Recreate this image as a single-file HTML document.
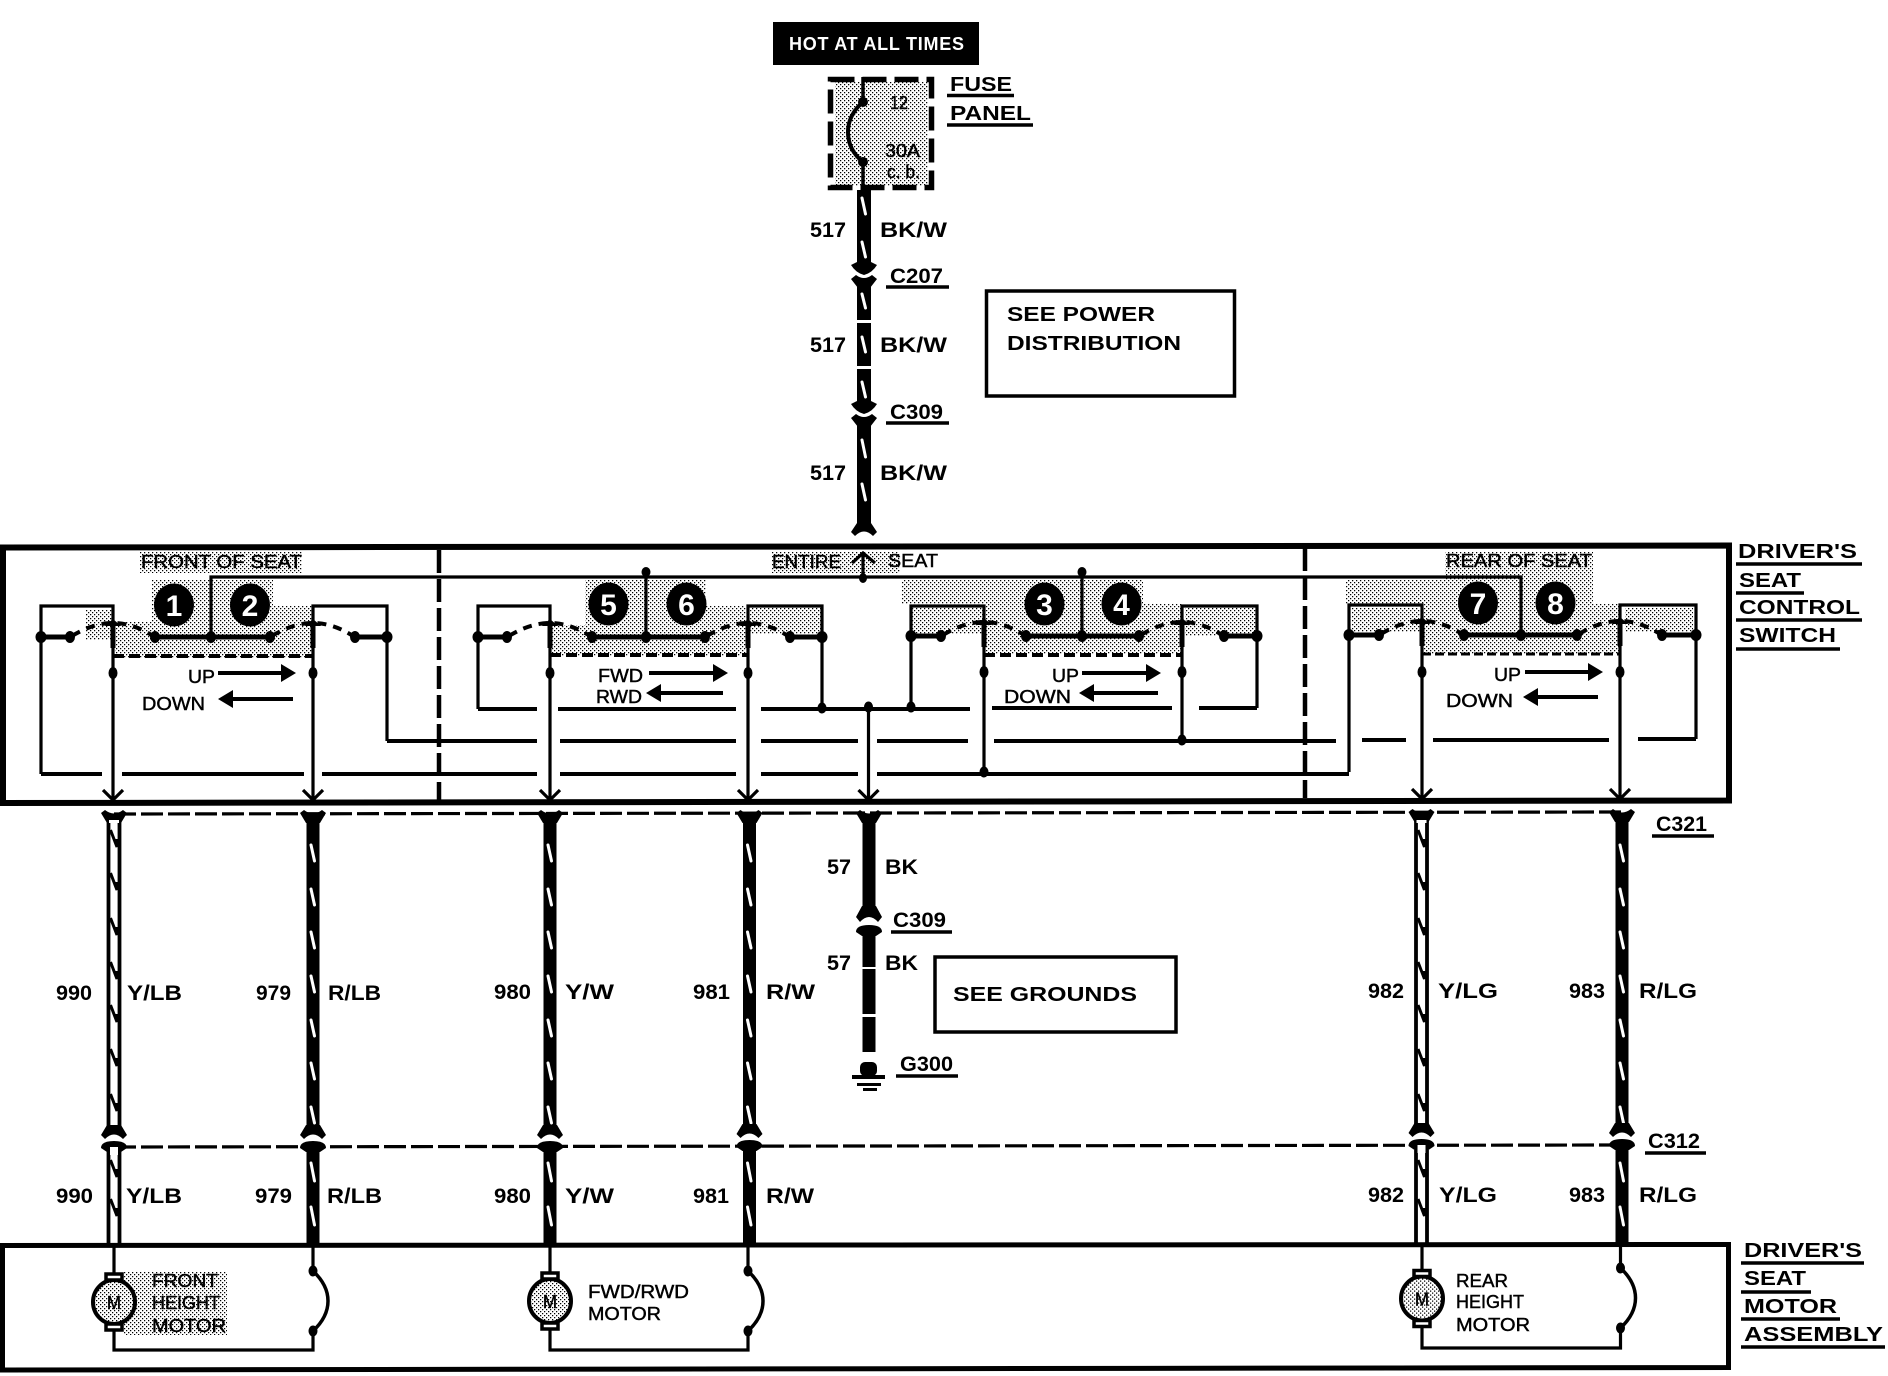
<!DOCTYPE html>
<html><head><meta charset="utf-8"><style>
html,body{margin:0;padding:0;background:#fff}
svg{display:block}
text{font-family:"Liberation Sans",sans-serif;fill:#000}
.b{font-size:20px;font-weight:bold}
.n{font-size:21px;font-weight:bold}
.r{font-size:18px;stroke:#000;stroke-width:.45}
.c{font-size:30px;font-weight:bold;fill:#fff;text-anchor:middle}
.w{fill:none;stroke:#000;stroke-width:3.2}
.u{stroke:#000;stroke-width:3.5}
</style></head><body>
<svg width="1888" height="1376" viewBox="0 0 1888 1376" xmlns="http://www.w3.org/2000/svg">
<defs>
<pattern id="st" width="4" height="4" patternUnits="userSpaceOnUse"><rect width="4" height="4" fill="#fff"/><rect x="0" y="0" width="1.25" height="1.25" fill="#000"/><rect x="2" y="2" width="1.25" height="1.25" fill="#000"/></pattern>
<g id="hs">
<path d="M-41,-1 Q-20,-14 0,-14 Q20,-14 40,-1" fill="none" stroke="#000" stroke-width="4" stroke-dasharray="9 7"/>
<path d="M-8,-11 L0,-18 L8,-11 Z" fill="#000"/>
<line x1="0" y1="-14" x2="0" y2="11" stroke="#000" stroke-width="5"/>
<ellipse cx="-43" cy="0" rx="5" ry="6"/><ellipse cx="42" cy="0" rx="5" ry="6"/>
</g>
<path id="ah" d="M-10,-10 L0,0 L10,-10" fill="none" stroke="#000" stroke-width="3.2"/>
<path id="forkTop" d="M-13,0 L-9,-3 Q0,4 9,-3 L13,0 L7,10 L-7,10 Z"/>
<g id="forkLow">
<path d="M-7,-14 L-13,-4 L-9,0 Q0,-9 9,0 L13,-4 L7,-14 Z"/>
<path d="M-13,9 Q-13,2 0,2 Q13,2 13,9 L7,13 L-7,13 Z"/>
</g>
<g id="sl" stroke="#fff" stroke-width="3" stroke-linecap="round">
<line x1="-2" y1="0" x2="1.5" y2="16"/><line x1="-2" y1="44" x2="1.5" y2="60"/><line x1="-2" y1="87" x2="1.5" y2="103"/><line x1="-2" y1="131" x2="1.5" y2="147"/><line x1="-2" y1="175" x2="1.5" y2="191"/><line x1="-2" y1="218" x2="1.5" y2="234"/><line x1="-2" y1="262" x2="1.5" y2="278"/>
</g>
<g id="sl2" stroke="#fff" stroke-width="3" stroke-linecap="round">
<line x1="-2" y1="1163" x2="1.5" y2="1181"/><line x1="-2" y1="1207" x2="1.5" y2="1225"/>
</g>
<path id="sq" d="M-3.5,0 L3,17 L3,9" fill="none" stroke="#000" stroke-width="3"/>
<g id="hollow">
<line x1="-5.5" y1="818" x2="-5.5" y2="1128" stroke="#000" stroke-width="3.8"/><line x1="5.5" y1="818" x2="5.5" y2="1128" stroke="#000" stroke-width="3.8"/>
<line x1="-5.5" y1="1150" x2="-5.5" y2="1246" stroke="#000" stroke-width="3.8"/><line x1="5.5" y1="1150" x2="5.5" y2="1246" stroke="#000" stroke-width="3.8"/>
<use href="#sq" y="830"/><use href="#sq" y="873"/><use href="#sq" y="918"/><use href="#sq" y="962"/><use href="#sq" y="1005"/><use href="#sq" y="1049"/><use href="#sq" y="1094"/><use href="#sq" y="1160"/><use href="#sq" y="1199"/>
</g>
<g id="solid">
<line x1="0" y1="818" x2="0" y2="1128" stroke="#000" stroke-width="13"/><line x1="0" y1="1150" x2="0" y2="1246" stroke="#000" stroke-width="13"/>
<use href="#sl" y="845"/><use href="#sl2"/>
</g>
<g id="motor">
<ellipse cx="0" cy="0" rx="21" ry="22" fill="url(#st)" stroke="#000" stroke-width="4"/>
<rect x="-8" y="-28" width="16" height="6" fill="#fff" stroke="#000" stroke-width="3.5"/>
<rect x="-8" y="22" width="16" height="6" fill="#fff" stroke="#000" stroke-width="3.5"/>
<text x="-7" y="7" class="r" textLength="14" lengthAdjust="spacingAndGlyphs">M</text>
</g>
<g id="brk">
<ellipse cx="0" cy="0" rx="4.5" ry="5.5"/><ellipse cx="0" cy="60" rx="4.5" ry="5.5"/>
<path d="M0,0 Q15,14 15,30 Q15,46 0,60" fill="none" stroke="#000" stroke-width="3.5"/>
</g>
</defs>
<rect width="1888" height="1376" fill="#fff"/>

<!-- stipple regions -->
<g fill="url(#st)">
<rect x="140" y="552" width="162" height="21"/><rect x="152" y="580" width="121" height="43"/><rect x="115" y="622" width="198" height="36"/><rect x="273" y="606" width="40" height="20"/><rect x="86" y="610" width="27" height="30"/>
<rect x="772" y="552" width="128" height="21"/>
<rect x="585" y="580" width="121" height="45"/><rect x="551" y="625" width="195" height="31"/><rect x="706" y="606" width="40" height="20"/><rect x="749" y="608" width="72" height="26"/>
<rect x="902" y="580" width="241" height="24"/><rect x="912" y="608" width="71" height="26"/><rect x="986" y="604" width="196" height="50"/><rect x="1185" y="608" width="71" height="28"/>
<rect x="1445" y="552" width="148" height="30"/><rect x="1346" y="580" width="247" height="24"/><rect x="1352" y="608" width="68" height="24"/><rect x="1423" y="604" width="197" height="50"/><rect x="1625" y="608" width="68" height="24"/>
<rect x="835" y="82" width="93" height="104"/>
<rect x="124" y="1272" width="103" height="63"/>
</g>

<!-- top header -->
<rect x="773" y="22" width="206" height="43" fill="#000"/>
<text x="789" y="50" class="b" style="fill:#fff;font-size:18px" textLength="175" lengthAdjust="spacing">HOT AT ALL TIMES</text>
<rect x="830.5" y="79.5" width="101" height="108" fill="none" stroke="#000" stroke-width="5.5" stroke-dasharray="24 8"/>
<path d="M863,77 V102 M863,162 V190" stroke="#000" stroke-width="3.5" fill="none"/>
<path d="M863,102 Q848,115 848,132 Q848,150 863,162" fill="none" stroke="#000" stroke-width="4"/>
<circle cx="863" cy="102" r="5"/><circle cx="863" cy="162" r="5"/>
<text x="890" y="109" class="r" textLength="18" lengthAdjust="spacingAndGlyphs">12</text>
<text x="885" y="157" class="r" textLength="35" lengthAdjust="spacingAndGlyphs">30A</text>
<text x="887" y="178" class="r" textLength="33" lengthAdjust="spacingAndGlyphs">c. b.</text>
<text x="950" y="91" class="b" textLength="62" lengthAdjust="spacingAndGlyphs">FUSE</text><line x1="947" y1="95.5" x2="1014" y2="95.5" class="u"/>
<text x="950" y="120" class="b" textLength="81" lengthAdjust="spacingAndGlyphs">PANEL</text><line x1="947" y1="125" x2="1033" y2="125" class="u"/>

<!-- 517 wire -->
<g stroke="#000" stroke-width="14"><line x1="864" y1="190" x2="864" y2="263"/><line x1="864" y1="284" x2="864" y2="320"/><line x1="864" y1="323" x2="864" y2="366"/><line x1="864" y1="369" x2="864" y2="403"/><line x1="864" y1="422" x2="864" y2="528"/></g>
<path d="M857,262 L851,265 Q856,273 864,275 Q872,273 877,265 L871,262Z"/>
<path d="M851,279 L856,275 Q864,281 872,275 L877,279 L870,288 L858,288Z"/>
<path d="M857,401 L851,404 Q856,412 864,414 Q872,412 877,404 L871,401Z"/>
<path d="M851,418 L856,414 Q864,420 872,414 L877,418 L870,427 L858,427Z"/>
<path d="M857,523 L851,532 L855,536 Q864,527 873,536 L877,532 L871,523Z"/>
<g stroke="#fff" stroke-width="3" stroke-linecap="round">
<line x1="862" y1="198" x2="865.5" y2="214"/><line x1="862" y1="242" x2="865.5" y2="257"/><line x1="862" y1="294" x2="865.5" y2="308"/><line x1="862" y1="337" x2="865.5" y2="352"/><line x1="862" y1="382" x2="865.5" y2="397"/><line x1="862" y1="440" x2="865.5" y2="457"/><line x1="862" y1="484" x2="865.5" y2="500"/>
</g>
<text x="810" y="237" class="n" textLength="36" lengthAdjust="spacingAndGlyphs">517</text><text x="880" y="237" class="n" textLength="67" lengthAdjust="spacingAndGlyphs">BK/W</text>
<text x="810" y="352" class="n" textLength="36" lengthAdjust="spacingAndGlyphs">517</text><text x="880" y="352" class="n" textLength="67" lengthAdjust="spacingAndGlyphs">BK/W</text>
<text x="810" y="480" class="n" textLength="36" lengthAdjust="spacingAndGlyphs">517</text><text x="880" y="480" class="n" textLength="67" lengthAdjust="spacingAndGlyphs">BK/W</text>
<text x="890" y="283" class="n" textLength="53" lengthAdjust="spacingAndGlyphs">C207</text><line x1="886" y1="287" x2="949" y2="287" class="u"/>
<text x="890" y="419" class="n" textLength="53" lengthAdjust="spacingAndGlyphs">C309</text><line x1="886" y1="423" x2="949" y2="423" class="u"/>
<rect x="986.5" y="291" width="248" height="105" fill="none" stroke="#000" stroke-width="3.5"/>
<text x="1007" y="321" class="b" textLength="148" lengthAdjust="spacingAndGlyphs">SEE POWER</text>
<text x="1007" y="350" class="b" textLength="174" lengthAdjust="spacingAndGlyphs">DISTRIBUTION</text>

<!-- switch box -->
<path d="M3,803 V547.5 L1729,545.5 V800.5 Z" fill="none" stroke="#000" stroke-width="6"/>
<line x1="439" y1="550" x2="439" y2="800" stroke="#000" stroke-width="4.5" stroke-dasharray="23 6"/>
<line x1="1305" y1="548" x2="1305" y2="798" stroke="#000" stroke-width="4.5" stroke-dasharray="23 6"/>

<!-- bus and wiring -->
<path class="w" d="M211,637 V577 H1521 V635"/>
<path class="w" d="M646,572 V637 M1082,572 V636 M863,553 V578"/>
<path d="M852,563 L863,553 L875,563" fill="none" stroke="#000" stroke-width="3.2"/>
<ellipse cx="863" cy="578" rx="4" ry="5"/><ellipse cx="646" cy="572" rx="4.5" ry="5"/><ellipse cx="1082" cy="572" rx="4.5" ry="5"/>
<path class="w" d="M41,774 V606 H113 V800 M313,800 V606 H387 V741"/>
<path class="w" d="M478,709 V606 H550 V800 M748,800 V606 H822 V709"/>
<path class="w" d="M911,708 V606 H984 V773 M1182,740 V606 H1257 V708"/>
<path class="w" d="M1349,772 V605 H1422 V800 M1620,800 V605 H1696 V739"/>
<path class="w" d="M868.5,708 V800"/>
<g class="w" style="stroke-width:4">
<path d="M41,774 H102 M122,774 H304 M322,774 H537 M560,774 H736 M761,774 H858 M877,774 H1349 M1349,772 H1349"/>
<path d="M387,741 H537 M560,741 H736 M761,741 H858 M877,741 H968 M994,741 H1336 M1362,740 H1406 M1433,740 H1609 M1638,739 H1696"/>
<path d="M478,709 H537 M558,709 H736 M761,709 H970 M992,708 H1172 M1199,708 H1257"/>
</g>
<g>
<ellipse cx="822" cy="708" rx="4.5" ry="5.5"/><ellipse cx="868.5" cy="707" rx="4.5" ry="5.5"/><ellipse cx="911" cy="707" rx="4.5" ry="5.5"/><ellipse cx="1182" cy="740" rx="4.5" ry="5.5"/><ellipse cx="984" cy="772" rx="4.5" ry="5.5"/>
<ellipse cx="113" cy="673" rx="4.5" ry="6"/><ellipse cx="313" cy="673" rx="4.5" ry="6"/><ellipse cx="550" cy="673" rx="4.5" ry="6"/><ellipse cx="748" cy="673" rx="4.5" ry="6"/><ellipse cx="984" cy="672" rx="4.5" ry="6"/><ellipse cx="1182" cy="672" rx="4.5" ry="6"/><ellipse cx="1422" cy="672" rx="4.5" ry="6"/><ellipse cx="1620" cy="672" rx="4.5" ry="6"/>
<ellipse cx="211" cy="637" rx="5" ry="6"/><ellipse cx="646" cy="637" rx="5" ry="6"/><ellipse cx="1082" cy="636" rx="5" ry="6"/><ellipse cx="1521" cy="635" rx="5" ry="6"/>
<ellipse cx="41" cy="637" rx="5.5" ry="6"/><ellipse cx="387" cy="637" rx="5.5" ry="6"/><ellipse cx="478" cy="637" rx="5.5" ry="6"/><ellipse cx="822" cy="637" rx="5.5" ry="6"/><ellipse cx="911" cy="636" rx="5.5" ry="6"/><ellipse cx="1257" cy="636" rx="5.5" ry="6"/><ellipse cx="1349" cy="635" rx="5.5" ry="6"/><ellipse cx="1696" cy="635" rx="5.5" ry="6"/>
</g>
<!-- contact bars -->
<path d="M41,637 H70 M154,637 H270 M355,637 H387 M478,637 H505 M590,637 H706 M788,637 H822 M911,636 H941 M1027,636 H1140 M1225,636 H1257 M1349,635 H1378 M1463,635 H1580 M1663,635 H1696" stroke="#000" stroke-width="5" fill="none"/>
<use href="#hs" x="113" y="637"/><use href="#hs" x="313" y="637"/><use href="#hs" x="550" y="637"/><use href="#hs" x="748" y="637"/>
<use href="#hs" x="984" y="636"/><use href="#hs" x="1182" y="636"/><use href="#hs" x="1422" y="635"/><use href="#hs" x="1620" y="635"/>
<!-- mechanical links -->
<line x1="113" y1="656" x2="313" y2="656" stroke="#000" stroke-width="4" stroke-dasharray="11 5"/>
<line x1="550" y1="655" x2="748" y2="655" stroke="#000" stroke-width="4" stroke-dasharray="11 5"/>
<line x1="984" y1="655" x2="1182" y2="655" stroke="#000" stroke-width="4" stroke-dasharray="11 5"/>
<line x1="1422" y1="654" x2="1620" y2="654" stroke="#000" stroke-width="3" stroke-dasharray="9 4"/>
<!-- arrowheads into bottom -->
<use href="#ah" x="113" y="800"/><use href="#ah" x="313" y="800"/><use href="#ah" x="550" y="800"/><use href="#ah" x="748" y="800"/><use href="#ah" x="868.5" y="800"/><use href="#ah" x="1422" y="799"/><use href="#ah" x="1620" y="799"/>
<!-- numbered circles -->
<g>
<ellipse cx="174" cy="605" rx="20" ry="21.5"/><ellipse cx="250" cy="605" rx="20" ry="21.5"/><ellipse cx="608.5" cy="604" rx="20" ry="21.5"/><ellipse cx="686.5" cy="604" rx="20" ry="21.5"/>
<ellipse cx="1044.5" cy="604" rx="20" ry="21.5"/><ellipse cx="1121.5" cy="604" rx="20" ry="21.5"/><ellipse cx="1478" cy="603" rx="20" ry="21.5"/><ellipse cx="1555.5" cy="603" rx="20" ry="21.5"/>
</g>
<text x="174" y="616" class="c">1</text><text x="250" y="616" class="c">2</text><text x="608.5" y="615" class="c">5</text><text x="686.5" y="615" class="c">6</text>
<text x="1044.5" y="615" class="c">3</text><text x="1121.5" y="615" class="c">4</text><text x="1478" y="614" class="c">7</text><text x="1555.5" y="614" class="c">8</text>
<!-- switch labels -->
<text x="141" y="568" class="r" textLength="161" lengthAdjust="spacingAndGlyphs">FRONT OF SEAT</text>
<text x="772" y="568" class="r" textLength="69" lengthAdjust="spacingAndGlyphs">ENTIRE</text>
<text x="888" y="567" class="r" textLength="50" lengthAdjust="spacingAndGlyphs">SEAT</text>
<text x="1446" y="567" class="r" textLength="146" lengthAdjust="spacingAndGlyphs">REAR OF SEAT</text>
<text x="188" y="683" class="r" textLength="27" lengthAdjust="spacingAndGlyphs">UP</text><text x="142" y="710" class="r" textLength="63" lengthAdjust="spacingAndGlyphs">DOWN</text>
<text x="598" y="682" class="r" textLength="45" lengthAdjust="spacingAndGlyphs">FWD</text><text x="596" y="703" class="r" textLength="46" lengthAdjust="spacingAndGlyphs">RWD</text>
<text x="1052" y="682" class="r" textLength="27" lengthAdjust="spacingAndGlyphs">UP</text><text x="1004" y="703" class="r" textLength="67" lengthAdjust="spacingAndGlyphs">DOWN</text>
<text x="1494" y="681" class="r" textLength="27" lengthAdjust="spacingAndGlyphs">UP</text><text x="1446" y="707" class="r" textLength="67" lengthAdjust="spacingAndGlyphs">DOWN</text>
<!-- direction arrows -->
<g stroke="#000" stroke-width="4"><line x1="218" y1="673" x2="285" y2="673"/><line x1="228" y1="699" x2="293" y2="699"/><line x1="649" y1="673" x2="718" y2="673"/><line x1="656" y1="693" x2="723" y2="693"/><line x1="1082" y1="673" x2="1150" y2="673"/><line x1="1089" y1="693" x2="1158" y2="693"/><line x1="1525" y1="672" x2="1592" y2="672"/><line x1="1533" y1="697" x2="1598" y2="697"/></g>
<path d="M281,664 L296,673 L281,682Z M233,690 L218,699 L233,708Z M713,664 L728,673 L713,682Z M661,684 L646,693 L661,702Z M1146,664 L1161,673 L1146,682Z M1094,684 L1079,693 L1094,702Z M1588,663 L1603,672 L1588,681Z M1538,688 L1523,697 L1538,706Z"/>
<!-- right labels top -->
<text x="1738" y="558" class="b" textLength="119" lengthAdjust="spacingAndGlyphs">DRIVER'S</text><line x1="1736" y1="564" x2="1862" y2="564" class="u"/>
<text x="1739" y="587" class="b" textLength="62" lengthAdjust="spacingAndGlyphs">SEAT</text><line x1="1736" y1="593" x2="1804" y2="593" class="u"/>
<text x="1739" y="614" class="b" textLength="121" lengthAdjust="spacingAndGlyphs">CONTROL</text><line x1="1736" y1="620" x2="1862" y2="620" class="u"/>
<text x="1739" y="642" class="b" textLength="97" lengthAdjust="spacingAndGlyphs">SWITCH</text><line x1="1736" y1="649" x2="1840" y2="649" class="u"/>

<!-- connector dashed lines -->
<line x1="114" y1="814" x2="1622" y2="812" stroke="#000" stroke-width="3.2" stroke-dasharray="22 5"/>
<line x1="114" y1="1147" x2="1622" y2="1145" stroke="#000" stroke-width="3.2" stroke-dasharray="22 5"/>
<!-- lower wires -->
<use href="#hollow" x="114"/><use href="#solid" x="313"/><use href="#solid" x="550"/><use href="#solid" x="749.5"/>
<use href="#hollow" x="1421.5"/><use href="#solid" x="1622"/>
<g>
<use href="#forkTop" x="114" y="813"/><use href="#forkTop" x="313" y="813"/><use href="#forkTop" x="550" y="813"/><use href="#forkTop" x="749.5" y="813"/><use href="#forkTop" x="869" y="813"/><use href="#forkTop" x="1421.5" y="812"/><use href="#forkTop" x="1622" y="812"/>
<use href="#forkLow" x="114" y="1139"/><use href="#forkLow" x="313" y="1139"/><use href="#forkLow" x="550" y="1139"/><use href="#forkLow" x="749.5" y="1138"/><use href="#forkLow" x="1421.5" y="1137"/><use href="#forkLow" x="1622" y="1137"/>
</g>
<rect x="109" y="820" width="10" height="3" fill="#fff"/><rect x="1416.5" y="820" width="10" height="3" fill="#fff"/>
<rect x="110" y="1147" width="8" height="8" fill="#fff"/><rect x="1417.5" y="1145" width="8" height="8" fill="#fff"/>
<!-- 57 wire -->
<g stroke="#000" stroke-width="13"><line x1="869" y1="820" x2="869" y2="912"/><line x1="869" y1="933" x2="869" y2="967"/><line x1="869" y1="969" x2="869" y2="1014"/><line x1="869" y1="1017" x2="869" y2="1052"/></g>
<path d="M862,906 L856,917 L860,922 Q869,912 878,922 L882,917 L876,906Z"/>
<path d="M856,932 Q856,925 869,925 Q882,925 882,932 L876,936 L862,936Z"/>
<rect x="860" y="1062" width="17" height="14" rx="5"/>
<rect x="852" y="1075" width="33" height="4"/><rect x="857" y="1083" width="24" height="3"/><rect x="863" y="1088" width="14" height="3"/>
<text x="827" y="874" class="n" textLength="24" lengthAdjust="spacingAndGlyphs">57</text><text x="885" y="874" class="n" textLength="33" lengthAdjust="spacingAndGlyphs">BK</text>
<text x="827" y="970" class="n" textLength="24" lengthAdjust="spacingAndGlyphs">57</text><text x="885" y="970" class="n" textLength="33" lengthAdjust="spacingAndGlyphs">BK</text>
<text x="893" y="927" class="n" textLength="53" lengthAdjust="spacingAndGlyphs">C309</text><line x1="891" y1="932" x2="952" y2="932" class="u"/>
<text x="900" y="1071" class="n" textLength="53" lengthAdjust="spacingAndGlyphs">G300</text><line x1="896" y1="1076" x2="958" y2="1076" class="u"/>
<rect x="935" y="957" width="241" height="75" fill="none" stroke="#000" stroke-width="3.5"/>
<text x="953" y="1001" class="b" textLength="184" lengthAdjust="spacingAndGlyphs">SEE GROUNDS</text>
<text x="1656" y="831" class="n" textLength="51" lengthAdjust="spacingAndGlyphs">C321</text><line x1="1652" y1="836" x2="1714" y2="836" class="u"/>
<text x="1648" y="1148" class="n" textLength="52" lengthAdjust="spacingAndGlyphs">C312</text><line x1="1645" y1="1153" x2="1706" y2="1153" class="u"/>
<!-- wire labels -->
<g class="n">
<text x="56" y="1000" class="n" textLength="36" lengthAdjust="spacingAndGlyphs">990</text><text x="127" y="1000" class="n" textLength="55" lengthAdjust="spacingAndGlyphs">Y/LB</text>
<text x="256" y="1000" class="n" textLength="35" lengthAdjust="spacingAndGlyphs">979</text><text x="328" y="1000" class="n" textLength="53" lengthAdjust="spacingAndGlyphs">R/LB</text>
<text x="494" y="999" class="n" textLength="37" lengthAdjust="spacingAndGlyphs">980</text><text x="565" y="999" class="n" textLength="49" lengthAdjust="spacingAndGlyphs">Y/W</text>
<text x="693" y="999" class="n" textLength="37" lengthAdjust="spacingAndGlyphs">981</text><text x="766" y="999" class="n" textLength="49" lengthAdjust="spacingAndGlyphs">R/W</text>
<text x="1368" y="998" class="n" textLength="36" lengthAdjust="spacingAndGlyphs">982</text><text x="1438" y="998" class="n" textLength="60" lengthAdjust="spacingAndGlyphs">Y/LG</text>
<text x="1569" y="998" class="n" textLength="36" lengthAdjust="spacingAndGlyphs">983</text><text x="1639" y="998" class="n" textLength="58" lengthAdjust="spacingAndGlyphs">R/LG</text>
<text x="56" y="1203" class="n" textLength="37" lengthAdjust="spacingAndGlyphs">990</text><text x="126" y="1203" class="n" textLength="56" lengthAdjust="spacingAndGlyphs">Y/LB</text>
<text x="255" y="1203" class="n" textLength="37" lengthAdjust="spacingAndGlyphs">979</text><text x="327" y="1203" class="n" textLength="55" lengthAdjust="spacingAndGlyphs">R/LB</text>
<text x="494" y="1203" class="n" textLength="37" lengthAdjust="spacingAndGlyphs">980</text><text x="565" y="1203" class="n" textLength="49" lengthAdjust="spacingAndGlyphs">Y/W</text>
<text x="693" y="1203" class="n" textLength="36" lengthAdjust="spacingAndGlyphs">981</text><text x="766" y="1203" class="n" textLength="48" lengthAdjust="spacingAndGlyphs">R/W</text>
<text x="1368" y="1202" class="n" textLength="36" lengthAdjust="spacingAndGlyphs">982</text><text x="1439" y="1202" class="n" textLength="58" lengthAdjust="spacingAndGlyphs">Y/LG</text>
<text x="1569" y="1202" class="n" textLength="36" lengthAdjust="spacingAndGlyphs">983</text><text x="1639" y="1202" class="n" textLength="58" lengthAdjust="spacingAndGlyphs">R/LG</text>
</g>

<!-- motor box -->
<path d="M2.5,1370 V1245.5 L1728.5,1244.5 V1367.5 Z" fill="none" stroke="#000" stroke-width="5"/>
<path class="w" d="M114,1246 V1274 M114,1330 V1350 H313 V1330 M313,1246 V1271"/>
<path class="w" d="M550,1246 V1274 M550,1329 V1350 H748 V1330 M748,1246 V1271"/>
<path class="w" d="M1422,1246 V1271 M1422,1327 V1348 H1620.5 V1328 M1620.5,1246 V1268"/>
<use href="#motor" x="114" y="1302"/><use href="#motor" x="550" y="1301"/><use href="#motor" x="1422" y="1298.5"/>
<use href="#brk" x="313" y="1271"/><use href="#brk" x="748" y="1271"/><use href="#brk" x="1620.5" y="1268"/>
<text x="152" y="1287" class="r" textLength="66" lengthAdjust="spacingAndGlyphs">FRONT</text><text x="152" y="1309" class="r" textLength="68" lengthAdjust="spacingAndGlyphs">HEIGHT</text><text x="152" y="1332" class="r" textLength="74" lengthAdjust="spacingAndGlyphs">MOTOR</text>
<text x="588" y="1298" class="r" textLength="101" lengthAdjust="spacingAndGlyphs">FWD/RWD</text><text x="588" y="1320" class="r" textLength="73" lengthAdjust="spacingAndGlyphs">MOTOR</text>
<text x="1456" y="1287" class="r" textLength="52" lengthAdjust="spacingAndGlyphs">REAR</text><text x="1456" y="1308" class="r" textLength="68" lengthAdjust="spacingAndGlyphs">HEIGHT</text><text x="1456" y="1331" class="r" textLength="74" lengthAdjust="spacingAndGlyphs">MOTOR</text>
<text x="1744" y="1257" class="b" textLength="118" lengthAdjust="spacingAndGlyphs">DRIVER'S</text><line x1="1741" y1="1263" x2="1864" y2="1263" class="u"/>
<text x="1744" y="1285" class="b" textLength="62" lengthAdjust="spacingAndGlyphs">SEAT</text><line x1="1741" y1="1292" x2="1811" y2="1292" class="u"/>
<text x="1744" y="1313" class="b" textLength="93" lengthAdjust="spacingAndGlyphs">MOTOR</text><line x1="1741" y1="1319" x2="1840" y2="1319" class="u"/>
<text x="1744" y="1341" class="b" textLength="139" lengthAdjust="spacingAndGlyphs">ASSEMBLY</text><line x1="1741" y1="1347" x2="1885" y2="1347" class="u"/>
</svg>
</body></html>
